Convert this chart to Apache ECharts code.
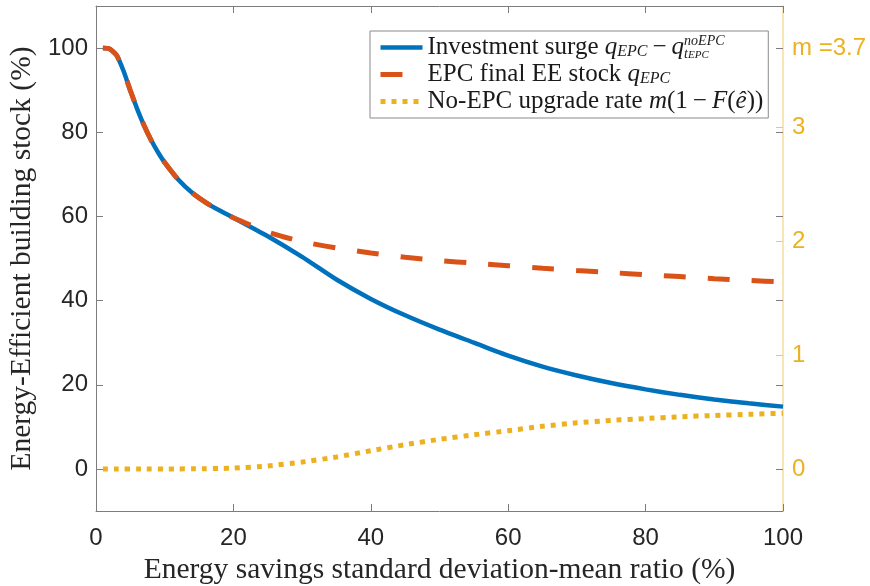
<!DOCTYPE html>
<html>
<head>
<meta charset="utf-8">
<script src="https://cdn.jsdelivr.net/npm/echarts@6/dist/echarts.min.js"></script>
<style>
  html, body { margin: 0; padding: 0; background: #fff; }
  #chart { width: 870px; height: 586px; }
</style>
</head>
<body>
<div id="chart"></div>
<script>
// x: energy savings std/mean ratio (%)
const ratio = [1, 2, 3, 4, 5, 6, 7, 8, 9, 10, 12, 14, 16, 18, 20, 25, 30, 35, 40, 45, 50, 55, 60, 65, 70, 75, 80, 85, 90, 95, 100]
// investment surge q_EPC - q^noEPC (%)
const surge = [100, 99.8, 98.3, 94.6, 89.9, 85.5, 81.6, 78.2, 75.3, 72.8, 68.7, 65.6, 63.3, 61.4, 59.7, 55.3, 50.4, 45.0, 40.4, 36.5, 33.1, 30.0, 26.9, 24.3, 22.2, 20.4, 18.9, 17.6, 16.5, 15.6, 14.8]
// EPC final EE stock q_EPC (%)
const epcStock = [100, 99.8, 98.3, 94.6, 89.9, 85.5, 81.6, 78.2, 75.3, 72.8, 68.7, 65.6, 63.3, 61.4, 59.7, 56.3, 54.0, 52.5, 51.3, 50.3, 49.5, 48.9, 48.3, 47.7, 47.15, 46.65, 46.15, 45.7, 45.2, 44.8, 44.4]
// no-EPC upgrade rate m(1 - F(e)), right axis
const upgradeRate = [0, 0, 0, 0, 0, 0, 0, 0, 0, 0, 0, 0.001, 0.002, 0.004, 0.007, 0.026, 0.06, 0.105, 0.16, 0.213, 0.26, 0.3, 0.336, 0.375, 0.405, 0.427, 0.443, 0.458, 0.47, 0.48, 0.49]

const leftTicks = [0, 20, 40, 60, 80, 100]
const rightTicks = [0, 1, 2, 3, 3.7]

const BLUE = '#0072BD'
const RED = '#D95319'
const YELLOW = '#EDB120'
const AXIS = '#7d7d7d'
const LABEL = '#262626'
const TXT = '#1a1a1a'
const SERIF = '"Liberation Serif", "DejaVu Serif", serif'
const SANS = '"Liberation Sans", Arial, sans-serif'

const pairs = (ys) => ratio.map((x, i) => [x, ys[i]])

const legendNames = {
  surge: '{t|Investment surge }{i|q}{s|EPC}{t|\u2009−\u2009}{i|q}{sup|noEPC}{sub|t}{ss|EPC}',
  epc: '{t|EPC final EE stock }{i|q}{s|EPC}',
  noepc: '{t|No-EPC upgrade rate }{i|m}{t|(1\u2009−\u2009}{i|F}{t|(}{i|ê}{t|))}'
}

const chart = echarts.init(document.getElementById('chart'), null, { renderer: 'canvas' })
chart.setOption({
  animation: false,
  backgroundColor: '#fff',
  grid: { left: 96, right: 87, top: 6, bottom: 75, outerBoundsMode: 'none' },
  legend: {
    orient: 'vertical',
    left: 370,
    top: 31,
    padding: [3, 5, 3, 8],
    itemGap: 0,
    itemWidth: 42,
    itemHeight: 6,
    borderColor: '#8a8a8a',
    borderWidth: 1,
    backgroundColor: '#fff',
    itemStyle: { color: 'rgba(0,0,0,0)', borderWidth: 0 },
    lineStyle: { width: 'inherit' },
    data: ['surge', 'epc', 'noepc'],
    formatter: name => legendNames[name],
    textStyle: {
      fontFamily: SERIF,
      fontSize: 25,
      color: TXT,
      lineHeight: 27,
      rich: {
        t: { fontFamily: SERIF, fontSize: 25, lineHeight: 27, color: TXT },
        i: { fontFamily: SERIF, fontSize: 25, lineHeight: 27, fontStyle: 'italic', color: TXT },
        s: { fontFamily: SERIF, fontSize: 16, lineHeight: 16, fontStyle: 'italic', color: TXT, verticalAlign: 'middle', padding: [8, 0, 0, 0] },
        sup: { fontFamily: SERIF, fontSize: 14, lineHeight: 13, fontStyle: 'italic', color: TXT, verticalAlign: 'top', width: 0 },
        sub: { fontFamily: SERIF, fontSize: 14, lineHeight: 15, fontStyle: 'italic', color: TXT, verticalAlign: 'bottom' },
        ss: { fontFamily: SERIF, fontSize: 11, lineHeight: 9, fontStyle: 'italic', color: TXT, verticalAlign: 'bottom' }
      }
    }
  },
  xAxis: [
    {
      type: 'value',
      position: 'bottom',
      min: 0,
      max: 100,
      interval: 20,
      name: 'Energy savings standard deviation-mean ratio (%)',
      nameLocation: 'middle',
      nameGap: 39,
      nameTextStyle: { fontFamily: SERIF, fontSize: 29.5, color: LABEL },
      axisLine: { onZero: false, lineStyle: { color: AXIS, width: 1 } },
      axisTick: { inside: true, length: 7, lineStyle: { color: AXIS } },
      axisLabel: { fontFamily: SANS, fontSize: 24, color: LABEL, margin: 15 },
      splitLine: { show: false }
    },
    {
      type: 'value',
      position: 'top',
      min: 0,
      max: 100,
      interval: 20,
      axisLine: { onZero: false, lineStyle: { color: AXIS, width: 1 } },
      axisTick: { inside: true, length: 7, lineStyle: { color: AXIS } },
      axisLabel: { show: false },
      splitLine: { show: false }
    }
  ],
  yAxis: [
    {
      type: 'value',
      position: 'left',
      min: -10,
      max: 110,
      name: 'Energy-Efficient building stock (%)',
      nameLocation: 'middle',
      nameGap: 53,
      nameRotate: 90,
      nameTextStyle: { fontFamily: SERIF, fontSize: 29.5, color: LABEL },
      axisLine: { show: true, onZero: false, lineStyle: { color: AXIS, width: 1 } },
      axisTick: { show: true, inside: true, length: 7, customValues: leftTicks, lineStyle: { color: AXIS } },
      axisLabel: { fontFamily: SANS, fontSize: 24, color: LABEL, margin: 8, customValues: leftTicks },
      splitLine: { show: false }
    },
    {
      type: 'value',
      position: 'right',
      min: -0.37,
      max: 4.07,
      axisLine: { show: true, onZero: false, lineStyle: { color: '#f6dc9c', width: 1.5 } },
      axisTick: { show: true, inside: true, length: 7, customValues: rightTicks, lineStyle: { color: '#f3c85a' } },
      axisLabel: {
        fontFamily: SANS,
        fontSize: 24,
        color: YELLOW,
        margin: 9,
        customValues: rightTicks,
        formatter: v => Math.abs(v - 3.7) < 1e-6 ? 'm =3.7' : String(v)
      },
      splitLine: { show: false }
    },
    {
      type: 'value',
      position: 'right',
      min: -10,
      max: 110,
      axisLine: { show: false, onZero: false },
      axisTick: { show: true, inside: true, length: 7, customValues: leftTicks, lineStyle: { color: AXIS } },
      axisLabel: { show: false },
      splitLine: { show: false }
    }
  ],
  series: [
    {
      name: 'surge',
      type: 'line',
      xAxisIndex: 0,
      yAxisIndex: 0,
      showSymbol: false,
      symbol: 'none',
      smooth: 0.2,
      data: pairs(surge),
      lineStyle: { color: BLUE, width: 4.5 },
      itemStyle: { color: BLUE },
      z: 2
    },
    {
      name: 'epc',
      type: 'line',
      xAxisIndex: 0,
      yAxisIndex: 0,
      showSymbol: false,
      symbol: 'none',
      smooth: 0.2,
      data: pairs(epcStock),
      lineStyle: { color: RED, width: 5, type: [22, 22], cap: 'butt' },
      itemStyle: { color: RED },
      z: 3
    },
    {
      name: 'noepc',
      type: 'line',
      xAxisIndex: 0,
      yAxisIndex: 1,
      showSymbol: false,
      symbol: 'none',
      smooth: 0.2,
      data: pairs(upgradeRate),
      lineStyle: { color: YELLOW, width: 5, type: [5, 6], cap: 'butt' },
      itemStyle: { color: YELLOW },
      z: 4
    }
  ]
})
</script>
</body>
</html>
